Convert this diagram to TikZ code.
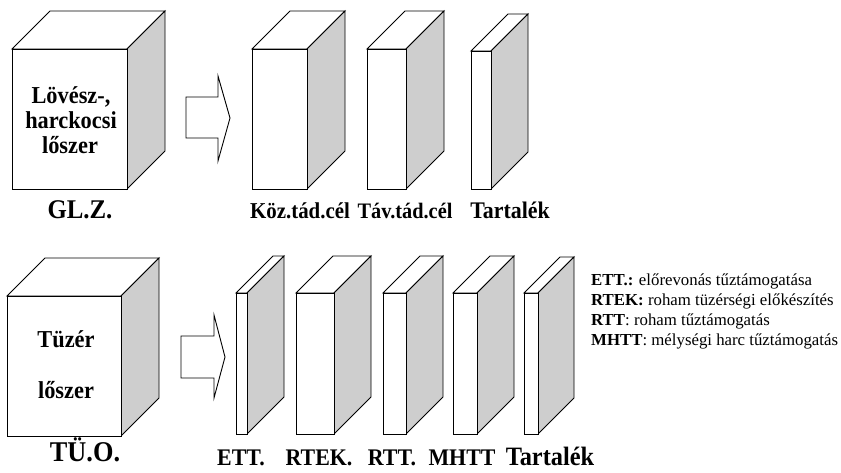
\documentclass[tikz,border=0pt]{standalone}
\usepackage{fontspec}
\setmainfont{Liberation Serif}
\newfontfamily\tallfont{Liberation Serif}[FakeStretch=0.92]
\newcommand\mybox[5]{% x1 y1 x2 y2 depth
  \draw[boxline,fill=white] (#1,#2) -- ++(#5,-#5) -- (#3+#5,#2-#5) -- (#3,#2) -- cycle;
  \draw[boxline,fill=sidegray] (#3,#2) -- ++(#5,-#5) -- (#3+#5,#4-#5) -- (#3,#4) -- cycle;
  \draw[boxline,fill=white] (#1,#2) rectangle (#3,#4);
}
\definecolor{sidegray}{RGB}{206,206,206}
\newcommand\fs[1]{\fontsize{#1}{#1}\selectfont}
\tikzset{
  boxline/.style={draw=black,line width=0.9pt,line join=miter},
  biglabel/.style={font=\tallfont\bfseries\fs{23.8},anchor=base,inner sep=0pt},
  cubelabel/.style={font=\tallfont\bfseries\fs{24.3},anchor=base,inner sep=0pt},
  legend/.style={font=\fs{16.8},anchor=base west,inner sep=0pt},
  bigarrow/.style={draw=black,line width=0.9pt,fill=white,line join=miter}
}
\begin{document}
\begin{tikzpicture}[x=1pt,y=-1pt]
\useasboundingbox (0,0) rectangle (841,472);
% ---------- top row ----------
\mybox{12}{49}{127}{189}{38}
\node[cubelabel] (t1) at (71,103) {Lövész-,};
\node[cubelabel] (t2) at (71,128) {harckocsi};
\node[cubelabel] (t3) at (70,153) {lőszer};
\draw[bigarrow] (186,97) -- (218,97) -- (218,76) -- (230,118) -- (218,161) -- (218,138) -- (186,138) -- cycle;
\mybox{252}{49}{307}{189}{38}
\mybox{367}{49}{406}{189}{38}
\mybox{471}{51}{491}{189}{37}
\node[biglabel,font=\tallfont\bfseries\fs{27}] (glz) at (80,218) {GL.Z.};
\node[biglabel,font=\tallfont\bfseries\fs{22.7}] (koz) at (300,218) {Köz.tád.cél};
\node[biglabel,font=\tallfont\bfseries\fs{22.1}] (tav) at (405,218) {Táv.tád.cél};
\node[biglabel] (tar1) at (510,218) {Tartalék};
% ---------- bottom row ----------
\mybox{7}{296}{121}{436}{38}
\node[cubelabel] (b1) at (66,347) {Tüzér};
\node[cubelabel] (b2) at (66,398) {lőszer};
\draw[bigarrow] (181,336) -- (214,336) -- (214,315) -- (225,357) -- (214,398) -- (214,378) -- (181,378) -- cycle;
\mybox{236}{293}{247}{434}{37}
\mybox{296}{293}{334}{434}{37}
\mybox{383}{293}{406}{434}{37}
\mybox{453}{293}{477}{434}{37}
\mybox{524}{293}{538}{434}{36}
\node[biglabel,font=\tallfont\bfseries\fs{28.6}] (tuo) at (85,461) {TÜ.O.};
\node[biglabel] (ett) at (241,465) {ETT.};
\node[biglabel] (rtek) at (319,465) {RTEK.};
\node[biglabel] (rtt) at (392,465) {RTT.};
\node[biglabel] (mhtt) at (462,465) {MHTT};
\node[biglabel,font=\tallfont\bfseries\fs{26.5}] (tar2) at (550,465) {Tartalék};
% ---------- legend ----------
\node[legend] (l1) at (591,285) {\textbf{ETT.:} előrevonás tűztámogatása};
\node[legend] (l2) at (591,305) {\textbf{RTEK:} roham tüzérségi előkészítés};
\node[legend] (l3) at (591,325) {\textbf{RTT}: roham tűztámogatás};
\node[legend] (l4) at (591,345) {\textbf{MHTT}: mélységi harc tűztámogatás};
\end{tikzpicture}
\end{document}
